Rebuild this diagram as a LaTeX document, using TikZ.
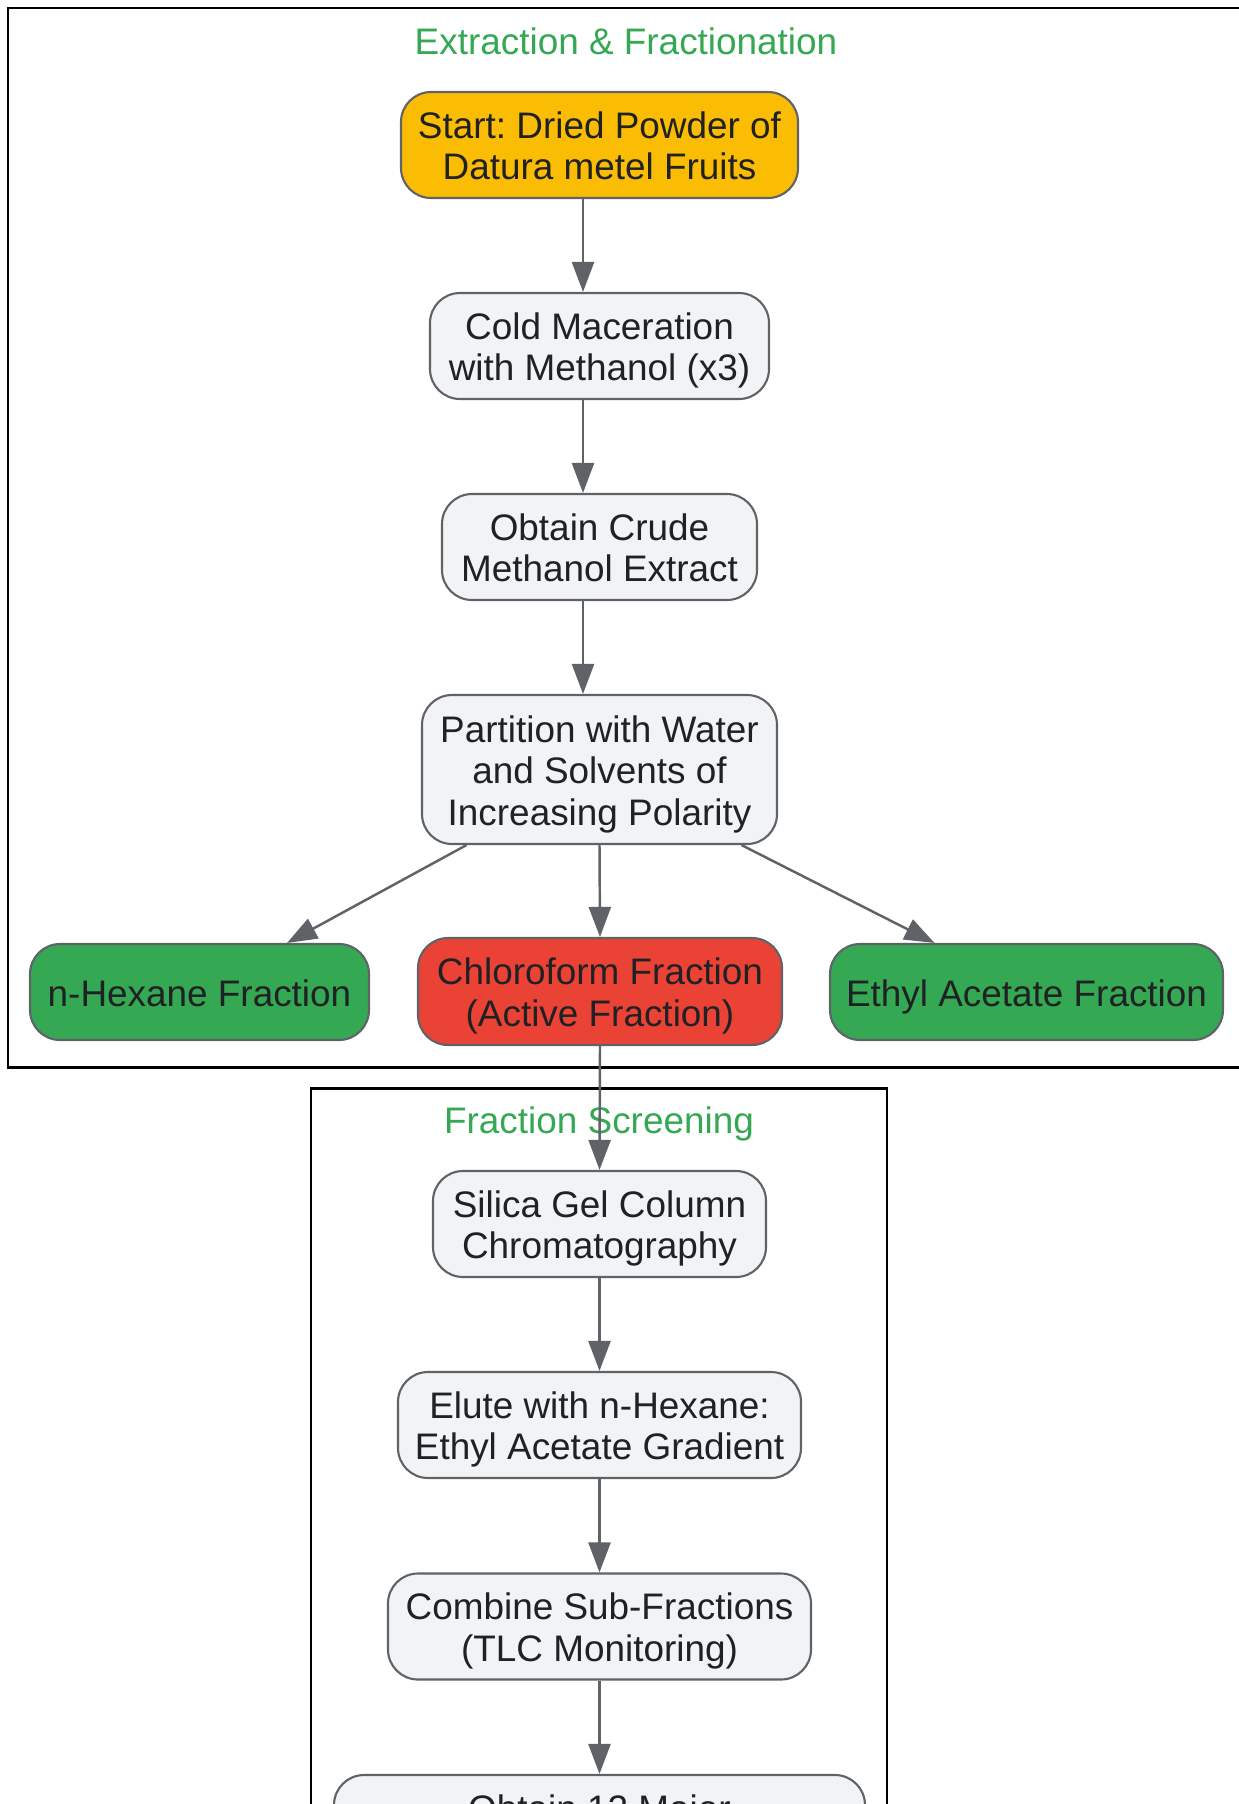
\documentclass[tikz,border=0pt]{standalone}
\usepackage{fontspec}
\setmainfont{Liberation Sans}
\usetikzlibrary{arrows.meta}

\definecolor{stepgray}{HTML}{F1F3F4}
\definecolor{edgegray}{HTML}{5F6368}
\definecolor{txtgray}{HTML}{202124}
\definecolor{startgold}{HTML}{FBBC04}
\definecolor{activered}{HTML}{EA4335}
\definecolor{fracgreen}{HTML}{34A853}

\begin{document}
\begin{tikzpicture}[
    proc/.style={draw=edgegray, line width=1.2pt, rounded corners=0.6cm, fill=stepgray,
      text=txtgray, align=center, inner sep=0pt, minimum height=2.12cm,
      text height=39.6pt, text depth=0pt,
      font=\fontsize{21}{23.6}\selectfont\frenchspacing},
    oneline/.style={text height=16pt},
    threeline/.style={text height=63.2pt},
    flow/.style={draw=edgegray, line width=1.4pt, -{Triangle[length=0.6cm,width=0.44cm]}},
    cluster/.style={draw=black, line width=1.6pt},
    clustertitle/.style={text=fracgreen, font=\fontsize{21}{23.6}\selectfont}
  ]

      \useasboundingbox (0,0) rectangle (24.78,-36.08);
      \clip (0,0) rectangle (24.78,-36.08);

      % Clusters
      \draw[cluster] (0.16,-0.16) rectangle (26,-21.35);
      \draw[cluster] (6.22,-21.77) rectangle (17.74,-37);
      \node[clustertitle] (extitle) at (12.52,-0.82) {Extraction \& Fractionation};
      \node[clustertitle] (sctitle) at (11.98,-22.48) {Fraction Screening};

      % Extraction steps
      \node[proc, fill=startgold, minimum width=7.94cm] (start) at (11.99,-2.90) {Start: Dried Powder of\\Datura metel Fruits};
      \node[proc, minimum width=6.78cm] (macer) at (11.99,-6.92) {Cold Maceration\\with Methanol (x3)};
      \node[proc, minimum width=6.30cm] (crude) at (11.99,-10.94) {Obtain Crude\\Methanol Extract};
      \node[proc, threeline, minimum width=7.10cm, minimum height=2.98cm] (part) at (11.99,-15.39) {Partition with Water\\and Solvents of\\Increasing Polarity};

      % Fractions
      \node[proc, oneline, fill=fracgreen, minimum width=6.78cm, minimum height=1.92cm] (hex) at (3.99,-19.84) {n-Hexane Fraction};
      \node[proc, fill=activered, minimum width=7.28cm, minimum height=2.14cm] (chl) at (12.0,-19.83) {Chloroform Fraction\\(Active Fraction)};
      \node[proc, oneline, fill=fracgreen, minimum width=7.86cm, minimum height=1.92cm] (eth) at (20.53,-19.84) {Ethyl Acetate Fraction};

      % Screening steps
      \node[proc, minimum width=6.66cm] (silica) at (11.99,-24.48) {Silica Gel Column\\Chromatography};
      \node[proc, minimum width=8.06cm] (elute) at (11.99,-28.50) {Elute with n-Hexane:\\Ethyl Acetate Gradient};
      \node[proc, minimum width=8.46cm] (combine) at (11.99,-32.53) {Combine Sub-Fractions\\(TLC Monitoring)};
      \node[proc, minimum width=10.62cm] (major) at (11.99,-36.56) {Obtain 12 Major\\\mbox{}};

      % Flow
      \draw[flow] ([xshift=-0.33cm]start.south) -- ([xshift=-0.33cm]macer.north);
      \draw[flow] ([xshift=-0.33cm]macer.south) -- ([xshift=-0.33cm]crude.north);
      \draw[flow] ([xshift=-0.33cm]crude.south) -- ([xshift=-0.33cm]part.north);
      \draw[flow] ([xshift=-2.66cm]part.south) -- ([xshift=1.75cm]hex.north);
      \draw[flow] (part.south) -- (chl.north);
      \draw[flow] ([xshift=2.84cm]part.south) -- ([xshift=-1.84cm]eth.north);
      \draw[flow] (chl.south) -- (silica.north);
      \draw[flow] (silica) -- (elute);
      \draw[flow] (elute) -- (combine);
      \draw[flow] (combine) -- (major);

    \end{tikzpicture}
\end{document}
